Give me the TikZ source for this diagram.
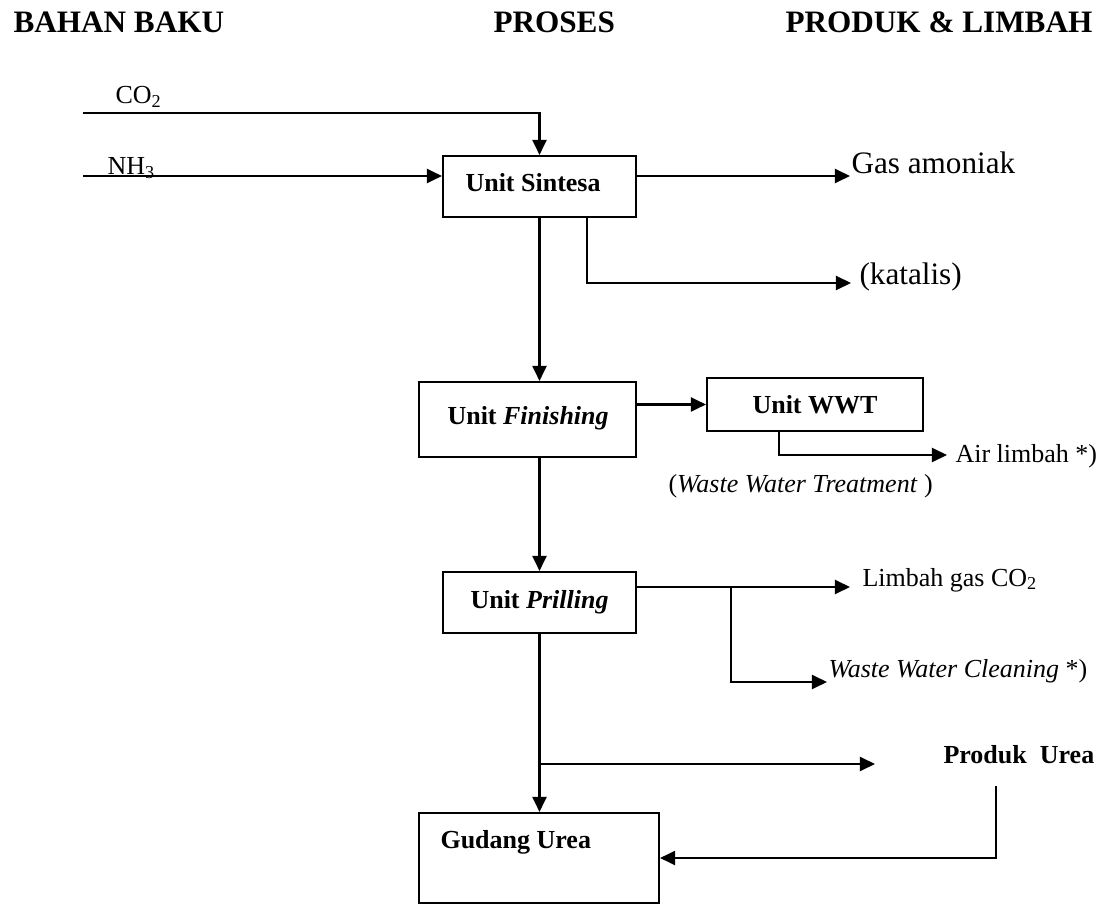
\documentclass[tikz,border=0pt]{standalone}
\usepackage{fontspec}
\setmainfont{Liberation Serif}
\usetikzlibrary{arrows.meta,fit}
\begin{document}
\begin{tikzpicture}[x=0.3846pt,y=-0.3846pt,
  box/.style={draw,line width=0.8pt,inner sep=0pt},
  flow/.style={line width=0.8pt,-{Triangle[length=5.8pt,width=5.4pt]}},
  head/.style={font=\fontsize{12}{14}\selectfont\bfseries,anchor=base west,inner sep=0pt},
  big/.style={font=\fontsize{12}{14}\selectfont,anchor=base west,inner sep=0pt},
  txt/.style={font=\fontsize{10}{12}\selectfont,anchor=base west,inner sep=0pt},
  btxt/.style={font=\fontsize{10}{12}\selectfont\bfseries,anchor=base west,inner sep=0pt}]
\useasboundingbox (0,0) rectangle (1113,905);

% column headings
\node[head] (hbahan) at (13,33) {BAHAN BAKU};
\node[head] (hproses) at (493,33) {PROSES};
\node[head] (hproduk) at (785,33) {PRODUK \& LIMBAH};

% process units
\node[box,fit={(443,156) (636,217)}] (sin) {};
\node[box,fit={(419,382) (636,457)}] (fin) {};
\node[box,fit={(707,378) (923,431)}] (wwt) {};
\node[box,fit={(443,572) (636,633)}] (pril) {};
\node[box,fit={(419,813) (659,903)}] (gud) {};

\node[btxt] (tsin) at (465,192) {Unit Sintesa};
\node[btxt] (tfin) at (447,424) {Unit \textit{Finishing}};
\node[btxt] (twwt) at (752,413) {Unit WWT};
\node[btxt] (tpril) at (470,608) {Unit \textit{Prilling}};
\node[btxt] (tgud) at (440,848) {Gudang Urea};

% stream labels
\node[txt] (lco2) at (115,104) {CO\textsubscript{2}};
\node[txt] (lnh3) at (107,175) {NH\textsubscript{3}};
\node[big] (lgas) at (851,174) {Gas amoniak};
\node[big] (lkat) at (859,285) {(katalis)};
\node[txt] (lair) at (955,462) {Air limbah *)};
\node[txt] (lwwt) at (668,492) {(\textit{Waste Water Treatment} )};
\node[txt] (llim) at (862,586) {Limbah gas CO\textsubscript{2}};
\node[txt] (lwwc) at (828,677) {\textit{Waste Water Cleaning} *)};
\node[btxt] (lprod) at (943,763) {Produk\ \ Urea};

% raw material feeds
\coordinate (co2s) at (83,113);
\coordinate (nh3s) at (83,176);
\draw[flow] (co2s) -| (sin.north);
\draw[flow] (nh3s) -- (nh3s -| sin.west);

% synthesis outlets
\coordinate (gasin) at (850,176);
\draw[flow] (nh3s -| sin.east) -- (gasin);
\coordinate (katb) at (587,217);
\coordinate (katin) at (851,283);
\draw[flow] (katb) |- (katin);
\draw[flow] (sin.south) -- (sin.south |- fin.north);

% finishing and waste water treatment
\draw[flow] (fin.east |- wwt.west) -- (wwt.west);
\coordinate (wwtb) at (779,431);
\coordinate (airin) at (947,455);
\draw[flow] (wwtb) |- (airin);
\draw[flow] (fin.south -| pril.north) -- (pril.north);

% prilling outlets
\coordinate (co2in) at (850,587);
\draw[flow] (pril.east |- co2in) -- (co2in);
\coordinate (prb) at (731,587);
\coordinate (wwcin) at (827,682);
\draw[flow] (prb) |- (wwcin);
\draw[flow] (pril.south) -- (pril.south |- gud.north);
\coordinate (urb) at (539.5,764);
\coordinate (urin) at (875,764);
\draw[flow] (urb) -- (urin);

% product returned to storage
\coordinate (rets) at (996,786);
\draw[flow] (rets) |- (gud.east);
\end{tikzpicture}
\end{document}
